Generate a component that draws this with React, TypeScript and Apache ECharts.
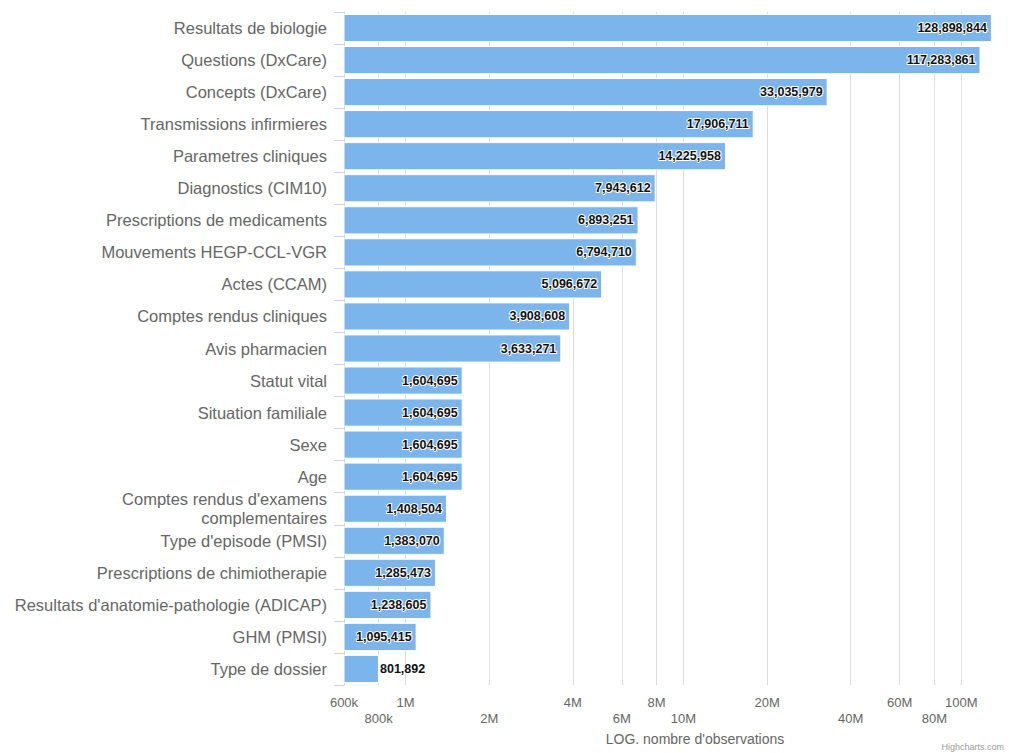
import React, { useEffect, useRef } from "react";
import * as echarts from "echarts";

const categories = [
  "Resultats de biologie",
  "Questions (DxCare)",
  "Concepts (DxCare)",
  "Transmissions infirmieres",
  "Parametres cliniques",
  "Diagnostics (CIM10)",
  "Prescriptions de medicaments",
  "Mouvements HEGP-CCL-VGR",
  "Actes (CCAM)",
  "Comptes rendus cliniques",
  "Avis pharmacien",
  "Statut vital",
  "Situation familiale",
  "Sexe",
  "Age",
  "Comptes rendus d'examens complementaires",
  "Type d'episode (PMSI)",
  "Prescriptions de chimiotherapie",
  "Resultats d'anatomie-pathologie (ADICAP)",
  "GHM (PMSI)",
  "Type de dossier",
];

const observations = [
  128898844, 117283861, 33035979, 17906711, 14225958, 7943612, 6893251,
  6794710, 5096672, 3908608, 3633271, 1604695, 1604695, 1604695, 1604695,
  1408504, 1383070, 1285473, 1238605, 1095415, 801892,
];

const tickValues = [
  6e5, 8e5, 1e6, 2e6, 4e6, 6e6, 8e6, 1e7, 2e7, 4e7, 6e7, 8e7, 1e8,
];
const tickLabels = [
  "600k", "800k", "1M", "2M", "4M", "6M", "8M", "10M", "20M", "40M", "60M", "80M", "100M",
];

const axisMin = 6e5;
const axisMax = 1.39e8;
const axisTitle = "LOG. nombre d'observations";
const creditText = "Highcharts.com";
const FONT = "'Liberation Sans', Arial, sans-serif";

export default function App() {
  const ref = useRef<HTMLDivElement>(null);

  useEffect(() => {
    document.body.style.margin = "0";
    document.body.style.overflow = "hidden";
    const chart = echarts.init(ref.current!, undefined, { renderer: "svg" });

    const logTicks = tickValues.map((v) => Math.log10(v));
    const evenTicks = logTicks.filter((_, i) => i % 2 === 0);
    const oddTicks = logTicks.filter((_, i) => i % 2 === 1);

    const labelFor = (v: number) => {
      let idx = 0;
      let best = Infinity;
      logTicks.forEach((t, i) => {
        const d = Math.abs(t - v);
        if (d < best) {
          best = d;
          idx = i;
        }
      });
      return tickLabels[idx];
    };

    const labelAxis = (ticks: number[], offset: number, grid: boolean) => ({
      type: "value",
      min: Math.log10(axisMin),
      max: Math.log10(axisMax),
      position: "bottom",
      offset,
      axisLine: { show: false },
      axisTick: { show: false, customValues: grid ? logTicks : ticks },
      splitLine: { show: grid, lineStyle: { color: "#dcdcdc", width: 1 } },
      axisLabel: {
        customValues: ticks,
        margin: 11,
        color: "#666666",
        fontSize: 13,
        fontFamily: FONT,
        showMinLabel: true,
        showMaxLabel: true,
        formatter: labelFor,
      },
    });

    const option = {
      animation: false,
      backgroundColor: "#ffffff",
      grid: { left: 344, right: 8, top: 12, bottom: 68, containLabel: false },
      xAxis: [
        {
          type: "log",
          logBase: 10,
          min: axisMin,
          max: axisMax,
          position: "bottom",
          show: false,
        },
        labelAxis(evenTicks, 0, true),
        labelAxis(oddTicks, 16, false),
      ],
      yAxis: {
        type: "category",
        data: categories,
        inverse: true,
        axisLine: { show: true, lineStyle: { color: "#ccd6eb" } },
        axisTick: { show: true, length: 10, lineStyle: { color: "#ccd6eb" } },
        axisLabel: {
          margin: 17,
          color: "#666666",
          fontSize: 16.5,
          fontFamily: FONT,
          lineHeight: 19,
          formatter: (s: string) => s.replace("examens complementaires", "examens\ncomplementaires"),
        },
        splitLine: { show: false },
      },
      series: [
        {
          type: "bar",
          xAxisIndex: 0,
          barCategoryGap: "12%",
          data: observations.map((v) =>
            v < 9e5
              ? { value: v, label: { position: "right", distance: 1 } }
              : { value: v }
          ),
          itemStyle: { color: "#7cb5ec", borderColor: "#ffffff", borderWidth: 1 },
          label: {
            show: true,
            position: "insideRight",
            distance: 5,
            color: "#111111",
            fontWeight: "bold",
            fontSize: 12.5,
            fontFamily: FONT,
            textBorderColor: "#ffffff",
            textBorderWidth: 2,
            formatter: (p: any) => Number(p.value).toLocaleString("en-US"),
          },
        },
      ],
      graphic: [
        {
          type: "text",
          x: 695,
          y: 739,
          style: {
            text: axisTitle,
            fill: "#666666",
            fontSize: 14,
            fontFamily: FONT,
            align: "center",
            verticalAlign: "middle",
          },
        },
        {
          type: "text",
          x: 1004,
          y: 742,
          style: {
            text: creditText,
            fill: "#999999",
            fontSize: 9,
            fontFamily: FONT,
            align: "right",
            verticalAlign: "top",
          },
        },
      ],
    };

    chart.setOption(option as any);
    return () => chart.dispose();
  }, []);

  return <div ref={ref} style={{ width: 1009, height: 753 }} />;
}
